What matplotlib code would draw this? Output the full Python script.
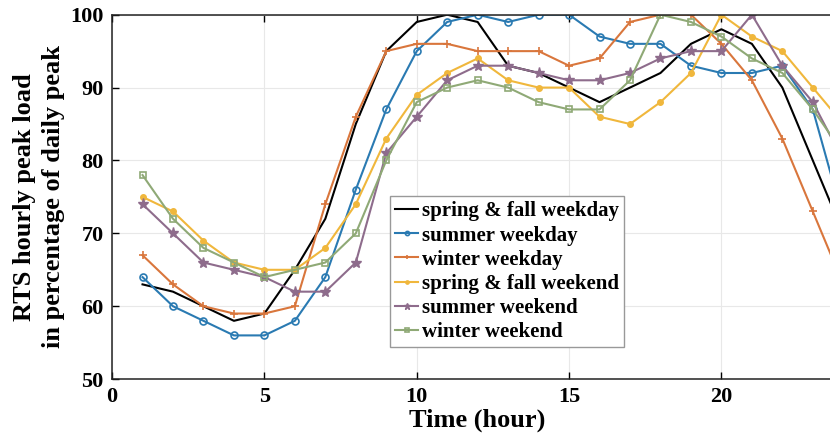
import matplotlib.pyplot as plt

plt.rcParams['font.family'] = 'Liberation Serif'
plt.rcParams['font.weight'] = 'bold'

# IEEE RTS hourly peak load, % of daily peak, hours 1..24
hours = list(range(1, 25))
spring_fall_weekday = [63, 62, 60, 58, 59, 65, 72, 85, 95, 99, 100, 99,
                       93, 92, 90, 88, 90, 92, 96, 98, 96, 90, 80, 70]
summer_weekday = [64, 60, 58, 56, 56, 58, 64, 76, 87, 95, 99, 100,
                  99, 100, 100, 97, 96, 96, 93, 92, 92, 93, 87, 72]
winter_weekday = [67, 63, 60, 59, 59, 60, 74, 86, 95, 96, 96, 95,
                  95, 95, 93, 94, 99, 100, 100, 96, 91, 83, 73, 63]
spring_fall_weekend = [75, 73, 69, 66, 65, 65, 68, 74, 83, 89, 92, 94,
                       91, 90, 90, 86, 85, 88, 92, 100, 97, 95, 90, 85]
summer_weekend = [74, 70, 66, 65, 64, 62, 62, 66, 81, 86, 91, 93,
                  93, 92, 91, 91, 92, 94, 95, 95, 100, 93, 88, 80]
winter_weekend = [78, 72, 68, 66, 64, 65, 66, 70, 80, 88, 90, 91,
                  90, 88, 87, 87, 91, 100, 99, 97, 94, 92, 87, 81]

fig = plt.figure(figsize=(8.3, 4.45), dpi=100)
ax = fig.add_axes([0.135, 0.148, 0.881, 0.819])

lw = 1.5
ax.plot(hours, spring_fall_weekday, '-', color='black', lw=lw,
        label='spring & fall weekday')
ax.plot(hours, summer_weekday, '-o', color='#2a7ab2', lw=lw, ms=5,
        mfc='none', mew=1.2, label='summer weekday')
ax.plot(hours, winter_weekday, '-+', color='#d9763c', lw=lw, ms=6,
        mew=1.2, label='winter weekday')
ax.plot(hours, spring_fall_weekend, '-o', color='#f0b73c', lw=lw, ms=4,
        label='spring & fall weekend')
ax.plot(hours, summer_weekend, '-*', color='#8e6c8c', lw=lw, ms=8,
        label='summer weekend')
ax.plot(hours, winter_weekend, '-s', color='#8fa976', lw=lw, ms=5,
        mfc='none', mew=1.2, label='winter weekend')

ax.set_xlim(0, 24)
ax.set_ylim(50, 100)
ax.set_xticks([0, 5, 10, 15, 20])
ax.set_yticks([50, 60, 70, 80, 90, 100])
ax.grid(True, color='#e8e8e8', lw=0.8)
ax.set_axisbelow(True)
ax.tick_params(direction='in', length=5, width=1, labelsize=16, pad=6,
               top=True)
for side in ['left', 'bottom', 'top']:
    ax.spines[side].set_linewidth(1.1)
    ax.spines[side].set_color('#222222')
ax.spines['right'].set_visible(False)

ax.set_xlabel('Time (hour)', fontsize=19, fontweight='bold', labelpad=1)
ax.set_ylabel('RTS hourly peak load\nin percentage of daily peak',
              fontsize=19, fontweight='bold', labelpad=4, linespacing=1.3)

leg = ax.legend(loc='upper left', bbox_to_anchor=(0.380, 0.502),
                prop={'weight': 'bold', 'size': 15},
                fancybox=False, edgecolor='#999999', framealpha=1,
                handlelength=1.1, handletextpad=0.2, labelspacing=0.2,
                borderpad=0.25, borderaxespad=0, markerscale=0.6)
leg.get_frame().set_linewidth(1.0)

fig.savefig('out.png', dpi=100)
